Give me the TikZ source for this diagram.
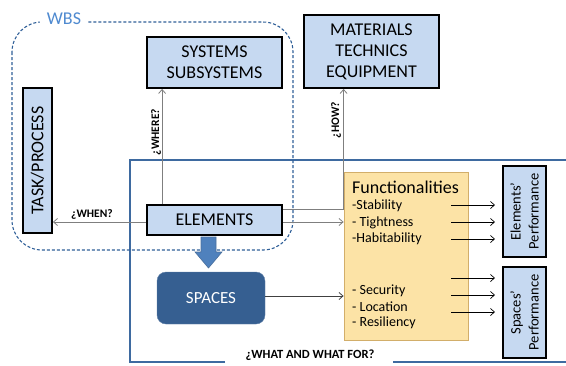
\documentclass[tikz,border=0pt]{standalone}
\usepackage{fontspec}
\setmainfont{Carlito}
\usetikzlibrary{arrows.meta,calc}
\definecolor{boxblue}{HTML}{C6D9F1}
\definecolor{spaceblue}{HTML}{365F91}
\definecolor{arrowblue}{HTML}{4F81BD}
\definecolor{framblue}{HTML}{3E6AA0}
\definecolor{wbsblue}{HTML}{2F5F98}
\definecolor{wbstext}{HTML}{4F8AD0}
\definecolor{funcfill}{HTML}{FCE3A6}
\definecolor{funcdraw}{HTML}{D2AE6A}
\definecolor{conngray}{HTML}{7F7F7F}
\begin{document}
\begin{tikzpicture}[x=1pt,y=-1pt,
  box/.style={draw=black,line width=1.8pt,fill=boxblue,align=center,inner sep=0pt,
    font=\fontsize{18}{21}\selectfont},
  perfbox/.style={draw=black,line width=1.8pt,fill=boxblue,align=center,inner sep=0pt,
    minimum width=91pt,minimum height=43pt,rotate=90,font=\fontsize{14.5}{18}\selectfont},
  conn/.style={draw=conngray,line width=0.8pt,-{Straight Barb[length=4pt,width=7pt]}},
  outarr/.style={draw=black,line width=0.7pt,-{Straight Barb[length=4pt,width=7pt]}},
  qlabel/.style={font=\fontsize{11.5}{13}\selectfont\bfseries,inner sep=0pt},
  item/.style={anchor=west,inner sep=0pt,font=\fontsize{14}{16}\selectfont},
]
\useasboundingbox (0,0) rectangle (566,365);
% big blue frame
\draw[framblue,line width=2pt] (225,362) -- (130,362) -- (130,160) -- (570,160);
\draw[framblue,line width=2pt] (393,362) -- (570,362);
\node[qlabel,font=\fontsize{12.5}{14}\selectfont\bfseries] (what) at (310,355) {¿WHAT AND WHAT FOR?};
% WBS dashed
\draw[wbsblue,line width=1.1pt,dash pattern=on 3pt off 2pt,rounded corners=30pt]
  (12,22) rectangle (293,250);
\node[fill=white,text=wbstext,inner xsep=7pt,inner ysep=3pt,font=\fontsize{18}{20}\selectfont] (wbs) at (64,19) {WBS};
% boxes
\node[box,minimum width=135pt,minimum height=51pt] (sys) at (214.5,62.5) {SYSTEMS\\SUBSYSTEMS};
\node[box,minimum width=135pt,minimum height=73pt] (mat) at (371.5,51.5) {MATERIALS\\TECHNICS\\EQUIPMENT};
\node[box,minimum width=145pt,minimum height=29pt,rotate=90] (task) at (37.5,160.5) {TASK/PROCESS};
\node[box,minimum width=135pt,minimum height=30pt] (elem) at (214.5,220) {ELEMENTS};
\node[fill=spaceblue,draw=spaceblue!80!white,rounded corners=9pt,text=white,minimum width=108pt,minimum height=52pt,
  font=\fontsize{17}{20}\selectfont] (spaces) at (211,298) {SPACES};
\node[draw=funcdraw,line width=0.8pt,fill=funcfill,minimum width=124pt,minimum height=168pt,inner sep=0pt] (func) at (406,256) {};
\node[perfbox] (ep) at (524.5,211.5) {Elements’\\Performance};
\node[perfbox] (sp) at (524.5,312.5) {Spaces’\\Performance};
% thick arrow
\draw[fill=arrowblue,draw=spaceblue!90!white,line width=0.6pt]
  (201,237) -- (216,237) -- (216,252) -- (222,252) -- (208.5,268) -- (195,252) -- (201,252) -- cycle;
% connectors
\coordinate (w1) at ([xshift=16pt]elem.north west);
\draw[conn] (w1) -- (w1 |- sys.south);
\node[qlabel,rotate=90] (lwhere) at (156,132) {¿WHERE?};
\coordinate (n1) at ([yshift=-2pt]elem.west);
\draw[conn] (n1) -- (n1 -| task.south);
\node[qlabel] (lwhen) at (92,214) {¿WHEN?};
\coordinate (h1) at ([yshift=-5pt]elem.north east);
\draw[conn] (h1) -| (func.north west |- mat.south);
\node[qlabel,rotate=90] (lhow) at (336,120) {¿HOW?};
\coordinate (t1) at ([yshift=-2pt]elem.east);
\draw[conn] (t1) -- (t1 -| func.west);
\coordinate (q1) at ([yshift=2pt]spaces.east);
\draw[conn,draw=black!75] (q1) -- (q1 -| func.west);
% functionalities text
\node[item,font=\fontsize{18}{20}\selectfont] (ftitle) at (352,187) {Functionalities};
\node[item] (i1) at (352,206) {-Stability};
\node[item] (i2) at (352,223) {- Tightness};
\node[item] (i3) at (352,239) {-Habitability};
\node[item] (i4) at (352,291) {- Security};
\node[item] (i5) at (352,307) {- Location};
\node[item] (i6) at (352,323) {- Resiliency};
% output arrows
\foreach \yy [count=\k] in {205,222,239,278,295,312}{
  \coordinate (s\k) at (451,\yy);
  \coordinate (e\k) at (495,\yy);
  \draw[outarr] (s\k) -- (e\k);
}
\end{tikzpicture}
\end{document}
